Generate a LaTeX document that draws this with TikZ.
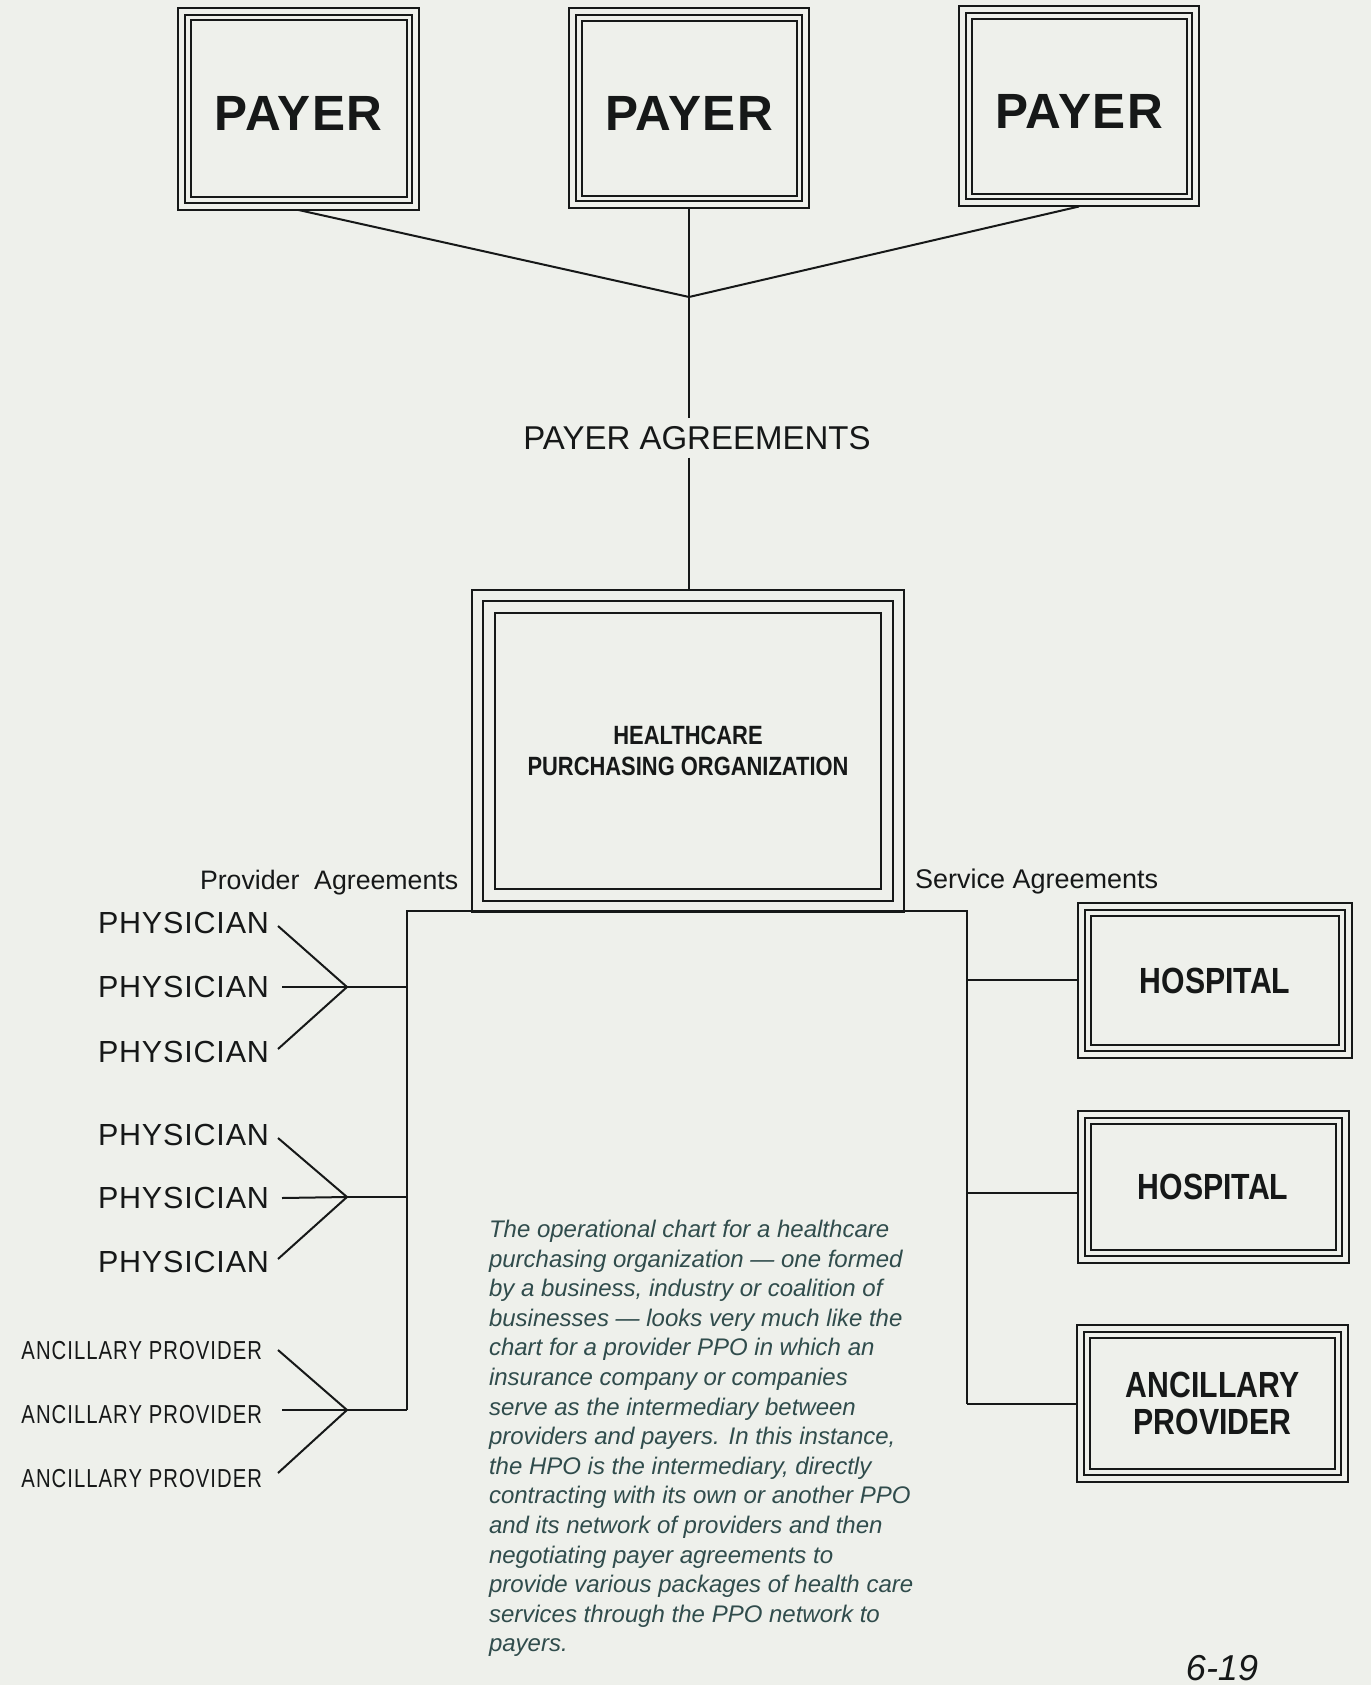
\documentclass[tikz,border=0pt]{standalone}
\usepackage{fontspec}
\setmainfont{Liberation Sans}
\newfontfamily\hv{Liberation Sans}
\newfontfamily\hvwide[LetterSpace=2.7]{Liberation Sans}
\newfontfamily\hvcond[FakeStretch=0.83]{Liberation Sans}
\newfontfamily\hvnarrow[FakeStretch=0.78,LetterSpace=4]{Liberation Sans}
\definecolor{paper}{RGB}{238,240,235}
\definecolor{ink}{RGB}{22,24,24}
\definecolor{captext}{RGB}{48,76,76}
\begin{document}
\begin{tikzpicture}[x=0.5pt,y=-0.5pt,line width=1pt,draw=ink,
  frame/.style={draw=ink,line width=1pt,inner sep=0pt,outer sep=0pt,text=ink},
  payerbox/.style={frame,minimum width=120pt,minimum height=100pt,
    text height=21.7pt,text depth=0pt,
    font=\hvwide\bfseries\fontsize{24.75}{28}\selectfont},
  hpobox/.style={frame,minimum width=216pt,minimum height=161pt,align=center,
    font=\hvcond\bfseries\fontsize{13.2}{15.5}\selectfont},
  sitebox/.style={frame,minimum width=135.5pt,align=center,
    font=\hvcond\bfseries\fontsize{18.2}{18.5}\selectfont},
  physician/.style={anchor=east,inner sep=0pt,text=ink,
    font=\hvwide\fontsize{15.25}{18}\selectfont},
  ancleft/.style={anchor=east,inner sep=0pt,text=ink,
    font=\hvnarrow\fontsize{13}{15}\selectfont},
  agree/.style={inner sep=0pt,text=ink,font=\hv\fontsize{13.25}{16}\selectfont},
  link/.style={draw=ink,line width=1pt}]

% paper
\fill[paper] (0,0) rectangle (1371,1685);
\useasboundingbox (0,0) rectangle (1371,1685);

% payers
\node[payerbox,minimum width=120.5pt,minimum height=101pt] (p1) at (298.5,109) {PAYER};
\node[payerbox] (p2) at (689,108.5) {PAYER};
\node[payerbox] (p3) at (1079,106.5) {PAYER};

% purchasing organization
\node[hpobox] (hpo) at (688,751) {HEALTHCARE\\PURCHASING ORGANIZATION};

% hospitals and ancillary provider
\node[sitebox,minimum width=137pt,minimum height=77.5pt] (h1) at (1215,980.5) {HOSPITAL};
\node[sitebox,minimum height=76pt] (h2) at (1213,1187) {HOSPITAL};
\node[sitebox,minimum height=78.5pt] (anc) at (1212.5,1403.5) {ANCILLARY\\PROVIDER};

% inner frame lines
\foreach \n/\a/\b in {p1/7/12.5,p2/7/12.5,p3/7/12.5,hpo/11/23,h1/7/13,h2/7/13,anc/7/13}{
  \draw[link] ([shift={(\a,\a)}]\n.north west) rectangle ([shift={(-\a,-\a)}]\n.south east);
  \draw[link] ([shift={(\b,\b)}]\n.north west) rectangle ([shift={(-\b,-\b)}]\n.south east);
}

% payer agreements
\coordinate (pj) at (689,297);
\node[agree,inner sep=3.5pt,font=\hv\fontsize{16.5}{18}\selectfont] (pa) at (697,438) {PAYER AGREEMENTS};
\draw[link] (p1.south) -- (pj);
\draw[link] (p3.south) -- (pj);
\draw[link] (p2.south) -- (pj) -- (pj |- pa.north);
\draw[link] (pj |- pa.south) -- (pj |- hpo.north);

% agreement labels
\node[agree,anchor=west,font=\hv\fontsize{13.35}{16}\selectfont] (prov) at (199,883) {Provider\ \ Agreements};
\node[agree,anchor=west,font=\hv\fontsize{13.5}{16}\selectfont] (serv) at (914,882) {Service Agreements};

% distribution buses
\coordinate (lt) at (407,911);
\coordinate (rt) at (967,911);
\coordinate (j1) at (347,987);
\coordinate (j2) at (347,1197);
\coordinate (j3) at (347,1410);
\coordinate (lb) at (407,1410);
\coordinate (r1) at (967,980);
\coordinate (r2) at (967,1193);
\coordinate (r3) at (967,1404);
\draw[link] (lb) -- (lt) -- (rt) -- (r3);
\draw[link] (r1) -- (r1 -| h1.west);
\draw[link] (r2) -- (r2 -| h2.west);
\draw[link] (r3) -- (r3 -| anc.west);
\draw[link] (j1) -- (j1 -| lt);
\draw[link] (j2) -- (j2 -| lt);
\draw[link] (j3) -- (lb);

% physicians
\node[physician] (ph1) at (270,923) {PHYSICIAN};
\node[physician] (ph2) at (270,987) {PHYSICIAN};
\node[physician] (ph3) at (270,1052) {PHYSICIAN};
\node[physician] (ph4) at (270,1135) {PHYSICIAN};
\node[physician] (ph5) at (270,1198) {PHYSICIAN};
\node[physician] (ph6) at (270,1262) {PHYSICIAN};
\draw[link] ([shift={(8,3)}]ph1.east) -- (j1);
\draw[link] ([shift={(12,0)}]ph2.east) -- (j1);
\draw[link] ([shift={(8,-3)}]ph3.east) -- (j1);
\draw[link] ([shift={(8,3)}]ph4.east) -- (j2);
\draw[link] ([shift={(12,0)}]ph5.east) -- (j2);
\draw[link] ([shift={(8,-3)}]ph6.east) -- (j2);

% ancillary providers
\node[ancleft] (an1) at (263,1351) {ANCILLARY PROVIDER};
\node[ancleft] (an2) at (263,1415) {ANCILLARY PROVIDER};
\node[ancleft] (an3) at (263,1479) {ANCILLARY PROVIDER};
\draw[link] ([shift={(15,-1)}]an1.east) -- (j3);
\draw[link] ([shift={(19,-5)}]an2.east) -- (j3);
\draw[link] ([shift={(15,-6)}]an3.east) -- (j3);

% caption
\node[anchor=north west,inner sep=0pt,align=left,text=captext,
  font=\hv\itshape\fontsize{12}{14.8}\selectfont] (cap) at (488,1219) {%
The operational chart for a healthcare\\
purchasing organization — one formed\\
by a business, industry or coalition of\\
businesses — looks very much like the\\
chart for a provider PPO in which an\\
insurance company or companies\\
serve as the intermediary between\\
providers and payers. In this instance,\\
the HPO is the intermediary, directly\\
contracting with its own or another PPO\\
and its network of providers and then\\
negotiating payer agreements to\\
provide various packages of health care\\
services through the PPO network to\\
payers.};

% page mark
\node[inner sep=0pt,text=ink,font=\hv\itshape\fontsize{18}{20}\selectfont] (pg) at (1222,1668) {6-19};
\end{tikzpicture}
\end{document}
